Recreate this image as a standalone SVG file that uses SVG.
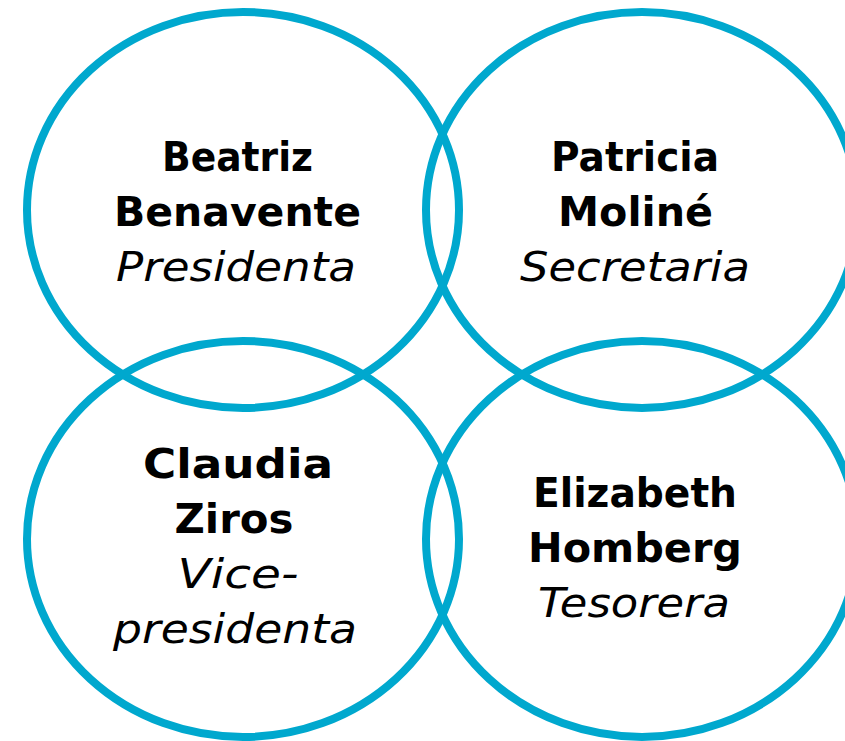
<svg xmlns="http://www.w3.org/2000/svg" width="845" height="741" viewBox="0 0 845 741">
<style>
.ring{fill:none;stroke:#00A8CE;stroke-width:8}
.name{font-family:"DejaVu Sans","Liberation Sans",sans-serif;font-weight:bold;font-size:41px;fill:#000;text-anchor:middle}
.role{font-family:"DejaVu Sans","Liberation Sans",sans-serif;font-style:italic;font-size:41px;fill:#000;text-anchor:middle}
</style>
<rect width="845" height="741" fill="#fff"/>
<g id="node-beatriz">
<ellipse class="ring" cx="243" cy="210" rx="216" ry="198"/>
<text class="name" x="237.5" y="171" textLength="151" lengthAdjust="spacingAndGlyphs">Beatriz</text>
<text class="name" x="237.5" y="226" textLength="247" lengthAdjust="spacingAndGlyphs">Benavente</text>
<text class="role" x="236" y="281" textLength="240" lengthAdjust="spacingAndGlyphs">Presidenta</text>
</g>
<g id="node-patricia">
<ellipse class="ring" cx="642" cy="210" rx="216" ry="198"/>
<text class="name" x="635" y="171" textLength="168" lengthAdjust="spacingAndGlyphs">Patricia</text>
<text class="name" x="635.5" y="226" textLength="155" lengthAdjust="spacingAndGlyphs">Moliné</text>
<text class="role" x="635" y="281" textLength="230" lengthAdjust="spacingAndGlyphs">Secretaria</text>
</g>
<g id="node-claudia">
<ellipse class="ring" cx="243" cy="539" rx="216" ry="198"/>
<text class="name" x="238" y="478" textLength="190" lengthAdjust="spacingAndGlyphs">Claudia</text>
<text class="name" x="234" y="533" textLength="119" lengthAdjust="spacingAndGlyphs">Ziros</text>
<text class="role" x="238" y="588" textLength="121" lengthAdjust="spacingAndGlyphs">Vice-</text>
<text class="role" x="235" y="643" textLength="244" lengthAdjust="spacingAndGlyphs">presidenta</text>
</g>
<g id="node-elizabeth">
<ellipse class="ring" cx="642" cy="539" rx="216" ry="198"/>
<text class="name" x="635" y="507" textLength="204" lengthAdjust="spacingAndGlyphs">Elizabeth</text>
<text class="name" x="635" y="562" textLength="214" lengthAdjust="spacingAndGlyphs">Homberg</text>
<text class="role" x="634" y="617" textLength="192" lengthAdjust="spacingAndGlyphs">Tesorera</text>
</g>
<g id="connectors"></g>
</svg>
